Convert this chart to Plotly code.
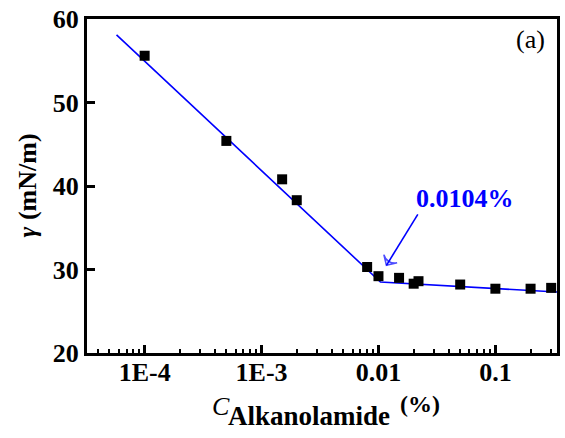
import math
import plotly.graph_objects as go

# ---- data ----
conc = [1e-4, 5e-4, 1.5e-3, 2e-3, 8e-3, 0.01, 0.015, 0.02, 0.022, 0.05, 0.1, 0.2, 0.3]
gamma = [55.6, 45.4, 40.8, 38.3, 30.3, 29.2, 29.0, 28.3, 28.6, 28.2, 27.7, 27.7, 27.8]

fit_x = [5.75e-5, 0.0104, 0.34]
fit_y = [58.1, 28.5, 27.3]

x_tickvals = [1e-4, 1e-3, 1e-2, 1e-1]
x_ticktext = ["1E-4", "1E-3", "0.01", "0.1"]
y_tickvals = [20, 30, 40, 50, 60]

cmc_label = "0.0104%"
arrow_tail = (0.0217, 36.6)
arrow_head = (0.0117, 30.5)

W, H = 565, 438
L, R, T, B = 87, 5, 15, 85
PW, PH = W - L - R, H - T - B


def P(x, y):
    return (x - L) / PW, (H - B - y) / PH


FONT = "Liberation Serif, Times New Roman, serif"

minor_vals = [m * 10 ** e for e in range(-5, 0) for m in range(2, 10)]

fig = go.Figure()
fig.add_trace(go.Scatter(x=fit_x, y=fit_y, mode="lines",
                         line=dict(color="#0000ff", width=1.6), showlegend=False))
fig.add_trace(go.Scatter(x=conc, y=gamma, mode="markers",
                         marker=dict(symbol="square", size=10, color="black"),
                         showlegend=False))
# arrow pointing at the CMC break point
fig.add_trace(go.Scatter(x=[arrow_tail[0], arrow_head[0]], y=[arrow_tail[1], arrow_head[1]],
                         mode="lines+markers",
                         line=dict(color="#0000ff", width=1.6),
                         marker=dict(symbol=["circle", "arrow-wide-open"], size=[0, 11],
                                     angleref="previous", color="#0000ff",
                                     line=dict(color="#0000ff", width=1.6)),
                         showlegend=False, hoverinfo="skip"))

fig.update_layout(
    width=W, height=H,
    margin=dict(l=L, r=R, t=T, b=B),
    paper_bgcolor="white", plot_bgcolor="white",
    font=dict(family=FONT, size=26, color="black"),
    xaxis=dict(type="log", range=[-4.493, -0.473],
               tickvals=x_tickvals, ticktext=["<b>%s</b>" % t for t in x_ticktext],
               ticks="inside", ticklen=8, tickwidth=2.5, tickcolor="black",
               ticklabelposition="outside", ticklabelstandoff=-6,
               showline=True, linewidth=3, linecolor="black", mirror=True,
               showgrid=False, zeroline=False,
               tickfont=dict(family=FONT, size=26, color="black"),
               minor=dict(tickvals=minor_vals, ticks="inside", ticklen=4,
                          tickwidth=2, tickcolor="black", showgrid=False)),
    yaxis=dict(range=[20, 60], tickvals=y_tickvals,
               ticktext=["<b>%d</b>" % v for v in y_tickvals],
               ticks="inside", ticklen=8, tickwidth=2.5, tickcolor="black",
               showline=True, linewidth=3, linecolor="black", mirror=True,
               showgrid=False, zeroline=False,
               tickfont=dict(family=FONT, size=26, color="black")),
)

x0, y0 = P(467, 197)
fig.add_annotation(x=x0, y=y0, xref="paper", yref="paper", text="<b>%s</b>" % cmc_label,
                   showarrow=False, xanchor="center", yanchor="middle",
                   font=dict(family=FONT, size=26, color="#0000ff"))
# panel label
x0, y0 = P(550, 36)
fig.add_annotation(x=x0, y=y0, xref="paper", yref="paper", text="(a)",
                   showarrow=False, xanchor="right", yanchor="middle",
                   font=dict(family=FONT, size=26, color="black"))
# y title
x0, y0 = P(27, 183)
fig.add_annotation(x=x0, y=y0, xref="paper", yref="paper",
                   text="<b><i>γ</i> (mN/m)</b>", textangle=-90,
                   showarrow=False, xanchor="center", yanchor="middle",
                   font=dict(family=FONT, size=26, color="black"))
# x title pieces
x0, y0 = P(211, 407)
fig.add_annotation(x=x0, y=y0, xref="paper", yref="paper", text="<i>C</i>",
                   showarrow=False, xanchor="left", yanchor="middle",
                   font=dict(family=FONT, size=26, color="black"))
x0, y0 = P(227, 417)
fig.add_annotation(x=x0, y=y0, xref="paper", yref="paper", text="<b>Alkanolamide</b>",
                   showarrow=False, xanchor="left", yanchor="middle",
                   font=dict(family=FONT, size=27, color="black"))
x0, y0 = P(400, 405)
fig.add_annotation(x=x0, y=y0, xref="paper", yref="paper", text="<b>(%)</b>",
                   showarrow=False, xanchor="left", yanchor="middle",
                   font=dict(family=FONT, size=24, color="black"))

fig.write_html("out.html")
